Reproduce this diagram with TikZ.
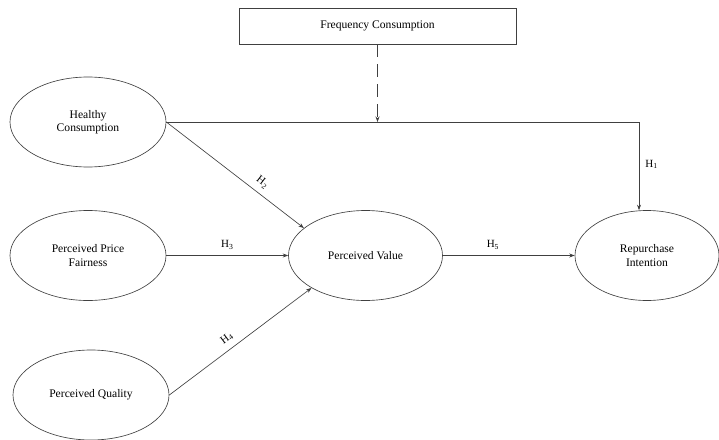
\documentclass[tikz,border=0pt]{standalone}
\usepackage{fontspec}
\setmainfont{Liberation Serif}
\usetikzlibrary{shapes.geometric,arrows.meta}
\tikzset{
  line/.style={draw=black!75, line width=0.65pt},
  arr/.style={line, -{Stealth[length=5.5pt,width=4pt]}},
  latent/.style={ellipse, draw=black!75, line width=0.65pt, inner sep=0pt,
    minimum width=156pt, minimum height=90pt, align=center,
    font=\fontsize{11.6}{13.5}\selectfont},
  obsbox/.style={rectangle, draw=black!75, line width=0.65pt, inner sep=0pt,
    minimum width=277pt, minimum height=36pt,
    font=\fontsize{11.6}{13.5}\selectfont},
  hlab/.style={font=\fontsize{11}{13}\selectfont, inner sep=1pt}
}
\begin{document}
\begin{tikzpicture}[x=1pt,y=-1pt]
\useasboundingbox (0,0) rectangle (719,439);
\node[obsbox] (fc) at (377.5,26) {Frequency Consumption};
\node[latent] (hc) at (88,122) {Healthy\\Consumption};
\node[latent] (pf) at (88,255.5) {Perceived Price\\Fairness};
\node[latent] (pq) at (91,395) {Perceived Quality};
\node[latent, minimum width=154pt] (pv) at (365.5,255.5) {Perceived Value};
\node[latent, minimum width=144pt] (ri) at (647,255.5) {Repurchase\\Intention};
\coordinate (corner) at (639,122);
\coordinate (mod) at (fc.south |- hc.east);
\draw[line] (hc.east) -- (corner);
\draw[arr] (corner) -- node[hlab, right=5pt, pos=0.48] (h1) {H\textsubscript{1}} (corner |- ri.north);
\draw[arr, dash pattern=on 13pt off 7pt] (fc.south) -- (mod);
\draw[arr] (hc.east) -- node[hlab, sloped, above=5pt, pos=0.65] (h2) {H\textsubscript{2}} (pv.156);
\draw[arr] (pf.east) -- node[hlab, above=5pt, pos=0.5] (h3) {H\textsubscript{3}} (pv.west);
\draw[arr] (pq.east) -- node[hlab, sloped, above=5pt, pos=0.45] (h4) {H\textsubscript{4}} (pv.211);
\draw[arr] (pv.east) -- node[hlab, above=5pt, pos=0.38] (h5) {H\textsubscript{5}} (ri.west);
\end{tikzpicture}
\end{document}
